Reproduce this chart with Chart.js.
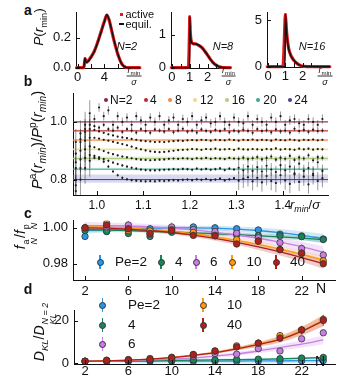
<!DOCTYPE html>
<html>
<head>
<meta charset="utf-8">
<script src="https://cdn.jsdelivr.net/npm/chart.js@4.4.1/dist/chart.umd.min.js"></script>
<style>
  body { margin: 0; background: #fff; }
  #fig { position: relative; width: 350px; height: 384px; overflow: hidden;
         font-family: "Liberation Sans", Arial, sans-serif; color: #111; }
  canvas { position: absolute; }
  .t { position: absolute; white-space: nowrap; line-height: 1; }
  .c { transform: translate(-50%, -50%); }
  .v { transform: translate(0, -50%); }
  .rot { transform: translate(-50%, -50%) rotate(-90deg); }
  .pl { font-weight: bold; font-size: 14px; }
  sub, sup { font-size: 68%; line-height: 0; }
  .stk { display: inline-flex; flex-direction: column; vertical-align: -0.4em; font-size: 64%; line-height: 0.95; margin-left: 1px; }
  .frac { display: flex; flex-direction: column; align-items: center; font-size: 9px; }
  .frac .num { border-bottom: 1px solid #333; padding: 0 1px 1px; }
  .frac .den { padding-top: 1px; }
  .dot { position: absolute; width: 4px; height: 4px; border-radius: 50%; transform: translate(-50%, -50%); }
  .mk { position: absolute; width: 0; height: 0; }
  .mk::before { content: ''; position: absolute; left: -0.6px; top: -7px; width: 1.3px; height: 14px; background: var(--c); }
  .mk::after { content: ''; position: absolute; left: -3.5px; top: -3.5px; width: 5px; height: 5px;
               border: 1px solid #333; border-radius: 50%; background: var(--c); }
</style>
</head>
<body>
<div id="fig"></div>
<script>
const FONT = '"Liberation Sans", Arial, sans-serif';

// ---------- panel a: P(r_min) ----------
const rN2   = [-0.2, 0.5, 0.9, 1.0, 1.1, 1.2, 1.35, 1.6, 2.0, 2.5, 3.0, 3.5, 4.0, 4.35, 4.7, 5.0, 5.5, 6.0, 6.5, 7.0, 7.5, 8.0, 8.5, 9.3];
const actN2 = [0, 0, 0, 0.02, 0.06, 0.05, 0.038, 0.047, 0.072, 0.112, 0.172, 0.243, 0.312, 0.352, 0.318, 0.262, 0.168, 0.088, 0.032, 0.006, 0, 0, 0, 0];
const eqN2  = [0, 0, 0, 0.03, 0.065, 0.045, 0.035, 0.045, 0.07, 0.11, 0.17, 0.24, 0.31, 0.355, 0.32, 0.265, 0.17, 0.09, 0.03, 0.005, 0, 0, 0, 0];

const rN8   = [-0.05, 0.4, 0.8, 0.93, 0.95, 0.97, 0.99, 1.0, 1.02, 1.05, 1.1, 1.2, 1.35, 1.5, 1.7, 1.9, 2.1, 2.3, 2.5, 2.7, 3.0, 3.3];
const actN8 = [0, 0, 0, 0.02, 0.25, 0.7, 1.2, 1.55, 1.25, 0.95, 0.78, 0.73, 0.72, 0.68, 0.6, 0.46, 0.3, 0.16, 0.07, 0.02, 0, 0];
const eqN8  = [0, 0, 0, 0, 0, 0, 0, 1.55, 1.2, 0.93, 0.77, 0.73, 0.72, 0.69, 0.6, 0.46, 0.3, 0.16, 0.07, 0.02, 0, 0];

const rN16   = [-0.07, 0.5, 0.85, 0.88, 0.9, 0.92, 0.94, 0.96, 0.98, 1.0, 1.04, 1.08, 1.13, 1.2, 1.3, 1.4, 1.5, 1.6, 1.8, 2.1, 3.0, 3.6];
const actN16 = [0, 0, 0, 0.3, 1.0, 2.0, 3.0, 4.0, 5.0, 5.6, 4.6, 3.6, 2.7, 1.9, 1.3, 0.95, 0.68, 0.48, 0.2, 0.04, 0, 0];
const eqN16  = [0, 0, 0, 0, 0, 0, 0, 0, 0, 5.6, 4.6, 3.5, 2.6, 1.85, 1.28, 0.92, 0.66, 0.47, 0.2, 0.04, 0, 0];

// ---------- panel b: P^a / P^p ----------
const rB = [0.955, 0.965, 0.975, 0.985, 0.995, 1.005, 1.015, 1.025, 1.035, 1.045,
            1.055, 1.065, 1.075, 1.085, 1.095, 1.105, 1.115, 1.125, 1.135, 1.145,
            1.155, 1.165, 1.175, 1.185, 1.195, 1.205, 1.215, 1.225, 1.235, 1.245,
            1.255, 1.265, 1.275, 1.285, 1.295, 1.305, 1.315, 1.325, 1.335, 1.345,
            1.355, 1.365, 1.375, 1.385, 1.395, 1.405, 1.415, 1.425, 1.435, 1.445,
            1.455, 1.465, 1.475, 1.485];
const ratioN2 = [0.93, 0.96, 0.99, 1.03, 1.01, 1.05, 1.02, 1.04, 0.99, 1.02,
                 1.00, 1.015, 0.99, 1.02, 1.005, 0.99, 1.015, 1.0, 1.02, 0.99,
                 1.005, 1.015, 0.99, 1.01, 1.0, 1.02, 0.99, 1.005, 1.015, 0.995,
                 1.0, 1.02, 1.0, 0.99, 1.015, 1.0, 0.995, 1.02, 0.99, 1.01,
                 1.0, 0.99, 1.015, 1.0, 1.02, 0.99, 1.005, 1.01, 0.995, 0.99,
                 1.01, 1.0, 0.99, 1.01];
const ratioN4 = [0.89, 0.94, 0.975, 0.99, 0.985, 0.98, 0.99, 0.975, 0.97, 0.98,
                 0.965, 0.975, 0.97, 0.963, 0.975, 0.968, 0.962, 0.974, 0.97, 0.966,
                 0.975, 0.964, 0.97, 0.976, 0.966, 0.97, 0.963, 0.974, 0.969, 0.965,
                 0.972, 0.968, 0.975, 0.964, 0.97, 0.966, 0.973, 0.969, 0.962, 0.975,
                 0.968, 0.971, 0.964, 0.974, 0.967, 0.97, 0.963, 0.976, 0.968, 0.972,
                 0.965, 0.973, 0.968, 0.97];
const ratioN8 = [0.86, 0.93, 0.965, 0.975, 0.972, 0.967, 0.962, 0.957, 0.953, 0.949,
                 0.946, 0.944, 0.941, 0.938, 0.935, 0.933, 0.932, 0.930, 0.931, 0.930,
                 0.932, 0.933, 0.935, 0.934, 0.936, 0.937, 0.936, 0.938, 0.937, 0.935,
                 0.938, 0.937, 0.936, 0.939, 0.937, 0.935, 0.938, 0.937, 0.939, 0.936,
                 0.938, 0.937, 0.935, 0.939, 0.937, 0.936, 0.939, 0.937, 0.935, 0.938,
                 0.937, 0.939, 0.936, 0.938];
const ratioN12 = [0.84, 0.90, 0.935, 0.945, 0.945, 0.942, 0.938, 0.935, 0.931, 0.927,
                  0.923, 0.919, 0.914, 0.909, 0.905, 0.901, 0.898, 0.896, 0.895, 0.896,
                  0.898, 0.900, 0.902, 0.903, 0.904, 0.906, 0.905, 0.903, 0.906, 0.905,
                  0.907, 0.904, 0.905, 0.906, 0.903, 0.907, 0.905, 0.904, 0.906, 0.905,
                  0.903, 0.906, 0.905, 0.908, 0.904, 0.906, 0.905, 0.903, 0.907, 0.905,
                  0.907, 0.904, 0.906, 0.905];
const ratioN16 = [0.80, 0.87, 0.905, 0.915, 0.912, 0.905, 0.899, 0.893, 0.888, 0.884,
                  0.880, 0.877, 0.874, 0.871, 0.869, 0.868, 0.867, 0.868, 0.869, 0.870,
                  0.872, 0.873, 0.872, 0.874, 0.873, 0.871, 0.874, 0.873, 0.875, 0.872,
                  0.874, 0.873, 0.871, 0.875, 0.873, 0.872, 0.876, 0.871, 0.874, 0.878,
                  0.870, 0.875, 0.880, 0.869, 0.876, 0.872, 0.882, 0.868, 0.877, 0.873,
                  0.884, 0.867, 0.878, 0.875];
const ratioN20 = [0.78, 0.84, 0.875, 0.885, 0.882, 0.877, 0.871, 0.865, 0.859, 0.854,
                  0.849, 0.845, 0.841, 0.838, 0.835, 0.833, 0.832, 0.832, 0.833, 0.834,
                  0.835, 0.836, 0.835, 0.837, 0.836, 0.834, 0.838, 0.835, 0.837, 0.834,
                  0.836, 0.839, 0.833, 0.838, 0.835, 0.841, 0.832, 0.845, 0.830, 0.843,
                  0.828, 0.848, 0.835, 0.826, 0.850, 0.832, 0.845, 0.822, 0.855, 0.830,
                  0.840, 0.820, 0.860, 0.830];
const ratioN24 = [0.76, 0.80, 0.84, 0.865, 0.875, 0.872, 0.862, 0.845, 0.828, 0.815,
                  0.806, 0.801, 0.798, 0.796, 0.795, 0.794, 0.795, 0.794, 0.796, 0.795,
                  0.797, 0.798, 0.797, 0.799, 0.800, 0.798, 0.801, 0.799, 0.802, 0.798,
                  0.800, 0.803, 0.797, 0.801, 0.805, 0.796, 0.803, 0.808, 0.794, 0.806,
                  0.790, 0.812, 0.795, 0.788, 0.815, 0.797, 0.785, 0.818, 0.792, 0.810,
                  0.783, 0.815, 0.795, 0.805];
const labelsB  = ['N=2', '4', '8', '12', '16', '20', '24'];
const levelB   = [1.0, 0.969, 0.937, 0.905, 0.873, 0.836, 0.80];
const bandLoB  = [0.997, 0.965, 0.933, 0.901, 0.866, 0.832, 0.789];
const bandHiB  = [1.003, 0.973, 0.941, 0.909, 0.880, 0.841, 0.818];
const errNearB = [0.045, 0.035, 0.035, 0.035, 0.045, 0.045, 0.055];   // r < 0.99
const errMidB  = [0.015, 0.008, 0.003, 0.003, 0.004, 0.005, 0.005];
const errFarB  = [0.016, 0.009, 0.003, 0.004, 0.009, 0.022, 0.032]; // r > 1.3

// ---------- panels c, d: vs N ----------
const nVals    = [2, 4, 6, 8, 10, 12, 14, 16, 18, 20, 22, 24];
const labelsPe = ['Pe=2', '4', '6', '10', '40'];

const fPe2  = [0.9952, 0.998, 0.999, 0.9995, 1.0, 1.0005, 1.0, 0.9995, 0.9988, 0.9965, 0.9955, 0.9938];
const fPe4  = [0.9985, 0.998, 0.9968, 0.9952, 0.9975, 0.997, 0.9968, 0.9962, 0.9957, 0.9956, 0.9951, 0.9935];
const fPe6  = [1.0, 1.0005, 1.0016, 0.9965, 1.0005, 0.999, 0.998, 0.997, 0.9945, 0.9918, 0.9885, 0.9849];
const fPe10 = [1.0, 1.0025, 0.9985, 0.9983, 0.999, 0.9975, 0.9958, 0.9935, 0.9928, 0.9880, 0.9857, 0.9817];
const fPe40 = [1.0, 1.0015, 0.9995, 0.9969, 0.9985, 0.9958, 0.9955, 0.991, 0.9925, 0.9878, 0.986, 0.980];
const fitFPe2  = [0.9985, 0.999, 0.9995, 0.9998, 1.0, 1.0, 0.9998, 0.9993, 0.9985, 0.9973, 0.9958, 0.994];
const fitFPe4  = [0.999, 0.9988, 0.9985, 0.998, 0.9976, 0.9972, 0.9967, 0.9962, 0.9956, 0.995, 0.9943, 0.9935];
const fitFPe6  = [1.0012, 1.0012, 1.001, 1.0005, 0.9998, 0.9988, 0.9975, 0.996, 0.9942, 0.992, 0.9895, 0.9865];
const fitFPe10 = [1.0005, 1.0003, 0.9998, 0.999, 0.998, 0.9967, 0.995, 0.993, 0.9908, 0.9882, 0.9853, 0.982];
const fitFPe40 = [1.0, 0.9998, 0.9993, 0.9985, 0.9974, 0.9959, 0.9941, 0.9919, 0.9894, 0.9866, 0.9835, 0.980];
const wFPe2  = [0.0018, 0.0015, 0.0013, 0.0012, 0.0012, 0.0012, 0.0013, 0.0015, 0.0017, 0.002, 0.0023, 0.0027];
const wFPe4  = [0.0012, 0.001, 0.0009, 0.0008, 0.0008, 0.0008, 0.0009, 0.001, 0.0011, 0.0012, 0.0014, 0.0016];
const wFPe6  = [0.002, 0.0018, 0.0017, 0.0016, 0.0016, 0.0017, 0.0018, 0.002, 0.0022, 0.0025, 0.0028, 0.0032];
const wFPe10 = [0.0012, 0.001, 0.0009, 0.0009, 0.0009, 0.001, 0.0011, 0.0012, 0.0014, 0.0016, 0.0019, 0.0022];
const wFPe40 = [0.0014, 0.0012, 0.0011, 0.0011, 0.0011, 0.0012, 0.0013, 0.0015, 0.0017, 0.002, 0.0024, 0.0028];
const errF   = [0.0018, 0.0015, 0.0025, 0.0015, 0.0018];

const dPe2  = [1.0, 0.9, 0.9, 0.9, 1.0, 1.0, 1.0, 1.0, 1.1, 1.1, 1.2, 1.3];
const dPe4  = [1.0, 1.1, 1.2, 1.3, 1.4, 1.6, 1.7, 1.8, 2.0, 2.2, 2.5, 2.8];
const dPe6  = [1.0, 1.2, 1.4, 1.8, 2.2, 3.4, 4.6, 4.3, 6.9, 5.8, 11.5, 14.3];
const dPe10 = [1.0, 1.5, 1.8, 2.3, 2.9, 4.2, 5.8, 8.2, 9.5, 13.0, 15.7, 20.6];
const dPe40 = [1.0, 1.4, 1.6, 1.9, 2.6, 4.1, 5.8, 7.7, 9.5, 11.8, 15.6, 20.1];
const fitDPe2  = [1.0, 1.0, 1.0, 1.0, 1.05, 1.05, 1.1, 1.1, 1.15, 1.2, 1.25, 1.3];
const fitDPe4  = [1.0, 1.1, 1.2, 1.3, 1.4, 1.5, 1.6, 1.75, 1.9, 2.1, 2.4, 2.7];
const fitDPe6  = [1.0, 1.1, 1.3, 1.6, 2.0, 2.6, 3.4, 4.4, 5.8, 7.4, 9.0, 11.0];
const fitDPe10 = [1.0, 1.2, 1.5, 2.0, 2.8, 3.8, 5.1, 6.9, 9.0, 11.5, 15.3, 20.2];
const fitDPe40 = [1.0, 1.2, 1.5, 2.0, 2.7, 3.7, 5.0, 6.8, 8.8, 11.2, 15.0, 19.9];
const wDPe2  = [0.2, 0.5, 0.8, 1.0, 1.1, 1.2, 1.2, 1.2, 1.2, 1.2, 1.2, 1.2];
const wDPe4  = [0.1, 0.15, 0.2, 0.2, 0.25, 0.25, 0.3, 0.3, 0.35, 0.4, 0.45, 0.5];
const wDPe6  = [0.1, 0.15, 0.2, 0.3, 0.4, 0.5, 0.7, 0.9, 1.1, 1.4, 1.7, 2.0];
const wDPe10 = [0.05, 0.1, 0.15, 0.2, 0.3, 0.4, 0.6, 0.8, 1.1, 1.5, 2.0, 2.6];
const wDPe40 = [0.05, 0.1, 0.15, 0.2, 0.3, 0.4, 0.6, 0.8, 1.1, 1.5, 2.0, 2.6];
const errAbsD = [0.8, 0.8, 0.6, 0.5, 0.5];
const errRelD = [0, 0.02, 0.06, 0.08, 0.1];

// ---------- styling ----------
const RED = '#e3191c';
const colB  = ['#8a2252', '#c0282d', '#ee8a3c', '#f0d98a', '#b2cc7c', '#3aa897', '#45408e'];
const bandColB = ['rgba(190,110,150,0.25)', 'rgba(220,110,110,0.25)', 'rgba(240,160,100,0.3)',
                  'rgba(245,230,160,0.4)', 'rgba(170,180,150,0.3)', 'rgba(90,190,170,0.25)', 'rgba(130,130,210,0.3)'];
const colPe = ['#2a95e0', '#17875a', '#c77fe4', '#ff9a10', '#b0201c'];

const xy = (xs, ys) => xs.map((x, i) => ({x, y: ys[i]}));
function rgba(hex, a) {
  const n = parseInt(hex.slice(1), 16);
  return `rgba(${n >> 16},${(n >> 8) & 255},${n & 255},${a})`;
}

// error bars drawn right before their dataset, using the y scale
const errBars = {
  id: 'errBars',
  beforeDatasetDraw(chart, args) {
    const ds = chart.data.datasets[args.index];
    if (!ds.errs) return;
    const ys = chart.scales.y, ctx = chart.ctx, a = chart.chartArea;
    ctx.save();
    ctx.beginPath(); ctx.rect(a.left, a.top, a.width, a.height); ctx.clip();
    ctx.strokeStyle = ds.errColor; ctx.lineWidth = ds.errWidth || 1;
    args.meta.data.forEach((pt, i) => {
      const v = ds.data[i].y, e = ds.errs[i];
      ctx.beginPath();
      ctx.moveTo(pt.x, ys.getPixelForValue(v - e));
      ctx.lineTo(pt.x, ys.getPixelForValue(v + e));
      ctx.stroke();
    });
    ctx.restore();
  }
};

// small inward tick marks
const inTicks = {
  id: 'inTicks',
  afterDraw(chart, args, opts) {
    const ctx = chart.ctx, a = chart.chartArea;
    ctx.save(); ctx.strokeStyle = '#111'; ctx.lineWidth = 1;
    ['x', 'y'].forEach(k => {
      const s = chart.scales[k];
      const vals = s.ticks.map(t => t.value).concat((opts.minor && opts.minor[k]) || []);
      vals.forEach(v => {
        const p = Math.round(s.getPixelForValue(v)) + 0.5;
        ctx.beginPath();
        if (k === 'x') { ctx.moveTo(p, a.bottom); ctx.lineTo(p, a.bottom - 4); }
        else { ctx.moveTo(a.left, p); ctx.lineTo(a.left + 4, p); }
        ctx.stroke();
      });
    });
    ctx.restore();
  }
};

function linAxis(axis, min, max, ticks, size, fmt, fs, pad) {
  return {
    type: 'linear', min, max,
    position: axis === 'x' ? 'bottom' : 'left',
    afterBuildTicks: s => { s.ticks = ticks.map(v => ({value: v})); },
    afterFit: s => { if (axis === 'x') s.height = size; else s.width = size; },
    grid: {display: true, drawOnChartArea: false, drawTicks: false},
    border: {display: true, color: '#111', width: 1},
    ticks: {autoSkip: false, maxRotation: 0, padding: pad, color: '#111',
            font: {family: FONT, size: fs}, callback: fmt}
  };
}

const fig = document.getElementById('fig');
function makeChart(box, scales, datasets, minor) {
  const c = document.createElement('canvas');
  c.width = box.w; c.height = box.h;
  c.style.left = box.x + 'px'; c.style.top = box.y + 'px';
  fig.appendChild(c);
  return new Chart(c, {
    type: 'line',
    data: {datasets},
    options: {
      responsive: false, animation: false, events: [], devicePixelRatio: 1,
      layout: {padding: {top: box.pt, right: box.pr, left: 0, bottom: 0}},
      plugins: {legend: {display: false}, tooltip: {enabled: false}, inTicks: {minor: minor || {}}},
      scales
    },
    plugins: [errBars, inTicks]
  });
}

function txt(html, x, y, cls, css) {
  const d = document.createElement('div');
  d.className = 't ' + (cls || '');
  d.style.left = x + 'px'; d.style.top = y + 'px';
  if (css) d.style.cssText += css;
  d.innerHTML = html;
  fig.appendChild(d);
  return d;
}

// ---------- panel a ----------
function distSets(xs, act, eq) {
  return [
    {data: xy(xs, eq), borderColor: '#111', borderWidth: 1.5, pointRadius: 0,
     cubicInterpolationMode: 'monotone', order: 0, clip: 4},
    {data: xy(xs, act), borderColor: RED, borderWidth: 3.2, pointRadius: 1.7, pointStyle: 'rect',
     pointBackgroundColor: RED, pointBorderWidth: 0, cubicInterpolationMode: 'monotone', order: 1, clip: 4}
  ];
}
const f1 = v => v.toFixed(1), f0 = v => String(v), f2 = v => v.toFixed(2);

makeChart({x: 46, y: 0, w: 100, h: 85, pt: 5, pr: 6},
  {x: linAxis('x', -0.24, 9.29, [0, 4], 17, f0, 13, 2),
   y: linAxis('y', -0.002, 0.368, [0, 0.2], 30, f1, 13, 5)},
  distSets(rN2, actN2, eqN2), {x: [2, 6]});
makeChart({x: 150, y: 0, w: 85, h: 85, pt: 6, pr: 5},
  {x: linAxis('x', -0.05, 3.26, [0, 1, 2], 17, f0, 13, 2),
   y: linAxis('y', -0.01, 1.67, [0, 1], 21, f0, 13, 5)},
  distSets(rN8, actN8, eqN8), {x: [0.5, 1.5, 2.5]});
makeChart({x: 245, y: 0, w: 90, h: 85, pt: 6, pr: 5},
  {x: linAxis('x', -0.07, 3.6, [0, 1, 2], 18, f0, 13, 2),
   y: linAxis('y', -0.03, 5.78, [0, 5], 22, f0, 13, 5)},
  distSets(rN16, actN16, eqN16), {x: [0.5, 1.5, 2.5]});

// ---------- panel b ----------
const xMinB = 0.949, xMaxB = 1.497;
const ratioB = [ratioN2, ratioN4, ratioN8, ratioN12, ratioN16, ratioN20, ratioN24];
const dsB = [];
ratioB.forEach((vals, i) => {
  const errs = rB.map(r => r < 0.99 ? errNearB[i] : (r > 1.3 ? errFarB[i] : errMidB[i]));
  dsB.push({data: xy(rB, vals), showLine: false, pointRadius: 1.1, pointBackgroundColor: '#1b1b1b',
            pointBorderWidth: 0, errs, errColor: 'rgba(40,40,40,0.6)', errWidth: 0.8, order: 0});
});
ratioB.forEach((vals, i) => {
  dsB.push({data: xy([xMinB, xMaxB], [bandLoB[i], bandLoB[i]]), borderWidth: 0, pointRadius: 0, order: 2});
  dsB.push({data: xy([xMinB, xMaxB], [bandHiB[i], bandHiB[i]]), borderWidth: 0, pointRadius: 0,
            fill: '-1', backgroundColor: bandColB[i], order: 2});
  dsB.push({data: xy([xMinB, xMaxB], [levelB[i], levelB[i]]), borderColor: colB[i], borderWidth: 1,
            pointRadius: 0, order: 1});
});
makeChart({x: 40, y: 80, w: 295, h: 135, pt: 5, pr: 7},
  {x: linAxis('x', xMinB, xMaxB, [1.0, 1.1, 1.2, 1.3, 1.4], 20, f1, 12, 3),
   y: linAxis('y', 0.7465, 1.0995, [0.8, 1.0], 33, f1, 12, 6)},
  dsB);

// ---------- panels c and d ----------
function peSets(points, fits, widths, errFn, radius) {
  const ds = [];
  // points: Pe=40 on top
  [4, 3, 2, 1, 0].forEach(i => {
    ds.push({data: xy(nVals, points[i]), showLine: false, pointRadius: radius,
             pointBackgroundColor: colPe[i], pointBorderColor: '#333', pointBorderWidth: 0.8,
             errs: points[i].map(v => errFn(i, v)), errColor: rgba(colPe[i], 0.75), errWidth: 1.3, order: 0});
  });
  [4, 3, 2, 1, 0].forEach(i => {
    ds.push({data: xy(nVals, fits[i]), borderColor: colPe[i], borderWidth: 1.3, pointRadius: 0,
             cubicInterpolationMode: 'monotone', order: 1});
  });
  [4, 3, 2, 1, 0].forEach(i => {
    ds.push({data: xy(nVals, fits[i].map((v, k) => v - widths[i][k])), borderWidth: 0, pointRadius: 0,
             cubicInterpolationMode: 'monotone', order: 2});
    ds.push({data: xy(nVals, fits[i].map((v, k) => v + widths[i][k])), borderWidth: 0, pointRadius: 0,
             cubicInterpolationMode: 'monotone', fill: '-1', backgroundColor: rgba(colPe[i], 0.22), order: 2});
  });
  return ds;
}
const nTicks = [2, 6, 10, 14, 18, 22];

makeChart({x: 40, y: 208, w: 300, h: 90, pt: 5, pr: 5},
  {x: linAxis('x', 0.89, 25.08, nTicks, 18, f0, 13, 4),
   y: linAxis('y', 0.971, 1.0039, [0.98, 1.0], 33, f2, 13, 5)},
  peSets([fPe2, fPe4, fPe6, fPe10, fPe40],
         [fitFPe2, fitFPe4, fitFPe6, fitFPe10, fitFPe40],
         [wFPe2, wFPe4, wFPe6, wFPe10, wFPe40],
         (i) => errF[i], 3.2));

makeChart({x: 41, y: 298, w: 300, h: 86, pt: 5, pr: 6},
  {x: linAxis('x', 0.98, 25.08, nTicks, 20, f0, 13, 0),
   y: linAxis('y', -0.29, 24.6, [0, 20], 33, f0, 13, 5)},
  peSets([dPe2, dPe4, dPe6, dPe10, dPe40],
         [fitDPe2, fitDPe4, fitDPe6, fitDPe10, fitDPe40],
         [wDPe2, wDPe4, wDPe6, wDPe10, wDPe40],
         (i, v) => errAbsD[i] + errRelD[i] * v, 3.2));

// ---------- text, labels, legends ----------
txt('a', 28, 10, 'c pl'); txt('b', 28, 81, 'c pl'); txt('c', 28, 213, 'c pl'); txt('d', 28, 289, 'c pl');

txt('<i>P</i>(<i>r</i><sub>min</sub>)', 39, 27, 'rot', 'font-size:13.5px');
txt('<i>P</i><sup>a</sup>(<i>r<sub>min</sub></i>)/<i>P</i><sup>p</sup>(<i>r<sub>min</sub></i>)', 36, 140, 'rot', 'font-size:15px');
txt('<i>f</i><span class="stk"><span>a</span><i>N</i></span>/<i>f</i><span class="stk"><span>p</span><i>N</i></span>', 26, 236, 'rot', 'font-size:14px');
txt('<i>D<sub>KL</sub></i>/<i>D</i><span class="stk"><i>N = 2</i><i>KL</i></span>', 45, 332, 'rot', 'font-size:14px');

const fracHtml = '<span class="num"><i>r</i><sub>min</sub></span><span class="den"><i>&sigma;</i></span>';
txt(fracHtml, 134, 75.5, 'c frac'); txt(fracHtml, 228.5, 75.5, 'c frac'); txt(fracHtml, 325, 75.5, 'c frac');
txt('<i>N=2</i>', 127, 46, 'c', 'font-size:11px');
txt('<i>N=8</i>', 223, 45.5, 'c', 'font-size:11px');
txt('<i>N=16</i>', 312, 46, 'c', 'font-size:11px');

const sq = document.createElement('div');
sq.style.cssText = `position:absolute;left:119.5px;top:12.5px;width:3px;height:3px;background:${RED}`;
fig.appendChild(sq);
const dash = document.createElement('div');
dash.style.cssText = 'position:absolute;left:118.5px;top:23px;width:5px;height:2px;background:#111';
fig.appendChild(dash);
txt('active', 125.5, 14, 'v', 'font-size:11px');
txt('equil.', 125.5, 24, 'v', 'font-size:11px');

txt('<i>r<sub>min</sub></i>/<i>&sigma;</i>', 290, 204, 'v', 'font-size:13px');
txt('N', 321, 288, 'c', 'font-size:14px');
txt('N', 320, 360.5, 'c', 'font-size:14px');

// legend b
const dotXB = [106, 146, 170, 195, 226.7, 257.7, 290];
const labXB = [110, 150, 175, 200, 231.7, 263.3, 294.3];
labelsB.forEach((lab, i) => {
  const d = document.createElement('div');
  d.className = 'dot';
  d.style.left = dotXB[i] + 'px'; d.style.top = '100px'; d.style.background = colB[i];
  fig.appendChild(d);
  txt(lab, labXB[i], 100, 'v', 'font-size:12px');
});

// legends c and d
function peLegend(mx, my, lx, fs) {
  labelsPe.forEach((lab, i) => {
    const m = document.createElement('div');
    m.className = 'mk';
    m.style.left = mx[i] + 'px'; m.style.top = my[i] + 'px';
    m.style.setProperty('--c', colPe[i]);
    fig.appendChild(m);
    txt(lab, lx[i], my[i], 'v', 'font-size:' + fs + 'px');
  });
}
peLegend([100, 161, 196, 232, 276], [262, 262, 262, 262, 262], [115, 175, 210, 246.5, 290], 13.5);
peLegend([102.7, 102.7, 102.7, 203, 203], [305, 325, 344, 305, 325], [128, 128, 128, 227, 227], 13.5);
</script>
</body>
</html>
